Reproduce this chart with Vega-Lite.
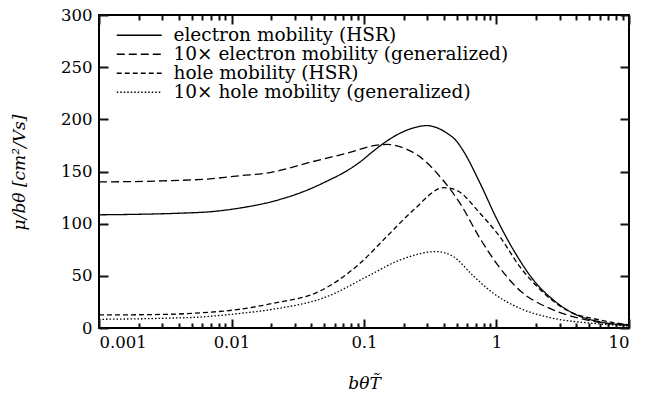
{
  "$schema": "https://vega.github.io/schema/vega-lite/v6.json",
  "width": 530,
  "height": 313,
  "autosize": {"type": "none"},
  "padding": {"left": 99, "top": 15, "right": 22, "bottom": 70},
  "background": "white",
  "config": {
    "view": {"stroke": "black", "strokeWidth": 2},
    "axis": {"grid": false, "domain": false, "labelFont": "DejaVu Serif", "labelFontSize": 16.5, "labelColor": "black", "titleFont": "DejaVu Serif", "titleFontSize": 17, "titleFontWeight": "normal", "titleFontStyle": "italic", "titleColor": "black"},
    "legend": {"labelFont": "DejaVu Serif", "labelFontSize": 18.5, "labelColor": "black"}
  },
  "data": {"values": [
    {"s": "electron mobility (HSR)", "x": 0.001, "y": 108.5},
    {"s": "electron mobility (HSR)", "x": 0.002, "y": 109},
    {"s": "electron mobility (HSR)", "x": 0.004, "y": 110},
    {"s": "electron mobility (HSR)", "x": 0.007, "y": 111.5},
    {"s": "electron mobility (HSR)", "x": 0.0116, "y": 115},
    {"s": "electron mobility (HSR)", "x": 0.02, "y": 121},
    {"s": "electron mobility (HSR)", "x": 0.037, "y": 132},
    {"s": "electron mobility (HSR)", "x": 0.055, "y": 142},
    {"s": "electron mobility (HSR)", "x": 0.066, "y": 147},
    {"s": "electron mobility (HSR)", "x": 0.093, "y": 159},
    {"s": "electron mobility (HSR)", "x": 0.1175, "y": 169.5},
    {"s": "electron mobility (HSR)", "x": 0.15, "y": 179.5},
    {"s": "electron mobility (HSR)", "x": 0.187, "y": 186.7},
    {"s": "electron mobility (HSR)", "x": 0.24, "y": 192},
    {"s": "electron mobility (HSR)", "x": 0.297, "y": 194},
    {"s": "electron mobility (HSR)", "x": 0.37, "y": 191},
    {"s": "electron mobility (HSR)", "x": 0.42, "y": 187},
    {"s": "electron mobility (HSR)", "x": 0.5, "y": 179},
    {"s": "electron mobility (HSR)", "x": 0.56, "y": 170},
    {"s": "electron mobility (HSR)", "x": 0.75, "y": 139},
    {"s": "electron mobility (HSR)", "x": 1.0, "y": 105},
    {"s": "electron mobility (HSR)", "x": 1.34, "y": 75},
    {"s": "electron mobility (HSR)", "x": 1.9, "y": 46},
    {"s": "electron mobility (HSR)", "x": 2.68, "y": 27},
    {"s": "electron mobility (HSR)", "x": 3.8, "y": 14},
    {"s": "electron mobility (HSR)", "x": 6.0, "y": 6},
    {"s": "electron mobility (HSR)", "x": 10, "y": 2.5},
    {"s": "10× electron mobility (generalized)", "x": 0.001, "y": 140},
    {"s": "10× electron mobility (generalized)", "x": 0.003, "y": 141},
    {"s": "10× electron mobility (generalized)", "x": 0.0069, "y": 143},
    {"s": "10× electron mobility (generalized)", "x": 0.0116, "y": 146},
    {"s": "10× electron mobility (generalized)", "x": 0.0195, "y": 149},
    {"s": "10× electron mobility (generalized)", "x": 0.0232, "y": 151},
    {"s": "10× electron mobility (generalized)", "x": 0.037, "y": 158},
    {"s": "10× electron mobility (generalized)", "x": 0.074, "y": 167.5},
    {"s": "10× electron mobility (generalized)", "x": 0.13, "y": 175.5},
    {"s": "10× electron mobility (generalized)", "x": 0.15, "y": 176},
    {"s": "10× electron mobility (generalized)", "x": 0.177, "y": 174.5},
    {"s": "10× electron mobility (generalized)", "x": 0.265, "y": 164},
    {"s": "10× electron mobility (generalized)", "x": 0.375, "y": 145},
    {"s": "10× electron mobility (generalized)", "x": 0.53, "y": 119.6},
    {"s": "10× electron mobility (generalized)", "x": 0.75, "y": 86},
    {"s": "10× electron mobility (generalized)", "x": 1.0, "y": 62},
    {"s": "10× electron mobility (generalized)", "x": 1.5, "y": 36},
    {"s": "10× electron mobility (generalized)", "x": 2.5, "y": 19},
    {"s": "10× electron mobility (generalized)", "x": 4.5, "y": 8.5},
    {"s": "10× electron mobility (generalized)", "x": 10, "y": 2.5},
    {"s": "hole mobility (HSR)", "x": 0.001, "y": 12.5},
    {"s": "hole mobility (HSR)", "x": 0.003, "y": 13},
    {"s": "hole mobility (HSR)", "x": 0.0058, "y": 14.5},
    {"s": "hole mobility (HSR)", "x": 0.0116, "y": 18},
    {"s": "hole mobility (HSR)", "x": 0.0207, "y": 23.7},
    {"s": "hole mobility (HSR)", "x": 0.0466, "y": 35.5},
    {"s": "hole mobility (HSR)", "x": 0.0933, "y": 62},
    {"s": "hole mobility (HSR)", "x": 0.148, "y": 87.5},
    {"s": "hole mobility (HSR)", "x": 0.236, "y": 113},
    {"s": "hole mobility (HSR)", "x": 0.4, "y": 134.5},
    {"s": "hole mobility (HSR)", "x": 0.5, "y": 132},
    {"s": "hole mobility (HSR)", "x": 0.75, "y": 110},
    {"s": "hole mobility (HSR)", "x": 1.06, "y": 87.5},
    {"s": "hole mobility (HSR)", "x": 1.5, "y": 58.8},
    {"s": "hole mobility (HSR)", "x": 2.15, "y": 36.4},
    {"s": "hole mobility (HSR)", "x": 3.4, "y": 17},
    {"s": "hole mobility (HSR)", "x": 6.0, "y": 7.7},
    {"s": "hole mobility (HSR)", "x": 10, "y": 3},
    {"s": "10× hole mobility (generalized)", "x": 0.001, "y": 8.3},
    {"s": "10× hole mobility (generalized)", "x": 0.003, "y": 9.3},
    {"s": "10× hole mobility (generalized)", "x": 0.0058, "y": 10.5},
    {"s": "10× hole mobility (generalized)", "x": 0.0116, "y": 14},
    {"s": "10× hole mobility (generalized)", "x": 0.0207, "y": 18},
    {"s": "10× hole mobility (generalized)", "x": 0.0523, "y": 30},
    {"s": "10× hole mobility (generalized)", "x": 0.105, "y": 49.2},
    {"s": "10× hole mobility (generalized)", "x": 0.187, "y": 65.2},
    {"s": "10× hole mobility (generalized)", "x": 0.353, "y": 73.2},
    {"s": "10× hole mobility (generalized)", "x": 0.473, "y": 68.4},
    {"s": "10× hole mobility (generalized)", "x": 0.668, "y": 50},
    {"s": "10× hole mobility (generalized)", "x": 0.946, "y": 33.3},
    {"s": "10× hole mobility (generalized)", "x": 1.5, "y": 18.9},
    {"s": "10× hole mobility (generalized)", "x": 2.68, "y": 9.3},
    {"s": "10× hole mobility (generalized)", "x": 5.3, "y": 4.5},
    {"s": "10× hole mobility (generalized)", "x": 10, "y": 2}
  ]},
  "resolve": {"axis": {"x": "independent", "y": "independent"}},
  "layer": [
    {
      "mark": {"type": "line", "color": "black", "strokeWidth": 1.3, "interpolate": "monotone"},
      "encoding": {
        "x": {"field": "x", "type": "quantitative", "scale": {"type": "log", "domain": [0.001, 10]},
          "axis": {"orient": "bottom", "values": [0.001, 0.01, 0.1, 1, 10], "format": "~g", "ticks": false, "tickSize": 0, "labelPadding": 6,
            "title": "bθT̃", "titleX": 265, "titleY": 55, "titleBaseline": "middle", "titleAlign": "center"}},
        "y": {"field": "y", "type": "quantitative", "scale": {"domain": [0, 300]},
          "axis": {"orient": "left", "values": [0, 50, 100, 150, 200, 250, 300], "ticks": false, "tickSize": 0, "labelPadding": 7,
            "title": "μ/bθ [cm²/Vs]", "titleX": -80, "titleY": 157, "titleBaseline": "middle", "titleAlign": "center"}},
        "strokeDash": {"field": "s", "type": "nominal",
          "scale": {"domain": ["electron mobility (HSR)", "10× electron mobility (generalized)", "hole mobility (HSR)", "10× hole mobility (generalized)"],
            "range": [[1, 0], [8, 4], [5, 3], [1.5, 2]]},
          "legend": {"title": null, "orient": "none", "legendX": 31, "legendY": 11, "symbolType": "M-3,0H3", "symbolSize": 225, "symbolStrokeWidth": 1.5, "symbolStrokeColor": "black", "rowPadding": -2.5, "labelOffset": 25, "labelLimit": 0}}
      }
    },
    {
      "mark": {"type": "point", "opacity": 0},
      "encoding": {
        "x": {"field": "x", "type": "quantitative", "axis": {"orient": "bottom", "zindex": 2, "values": [0.001, 0.002, 0.003, 0.004, 0.005, 0.006, 0.007, 0.008, 0.009, 0.01, 0.02, 0.03, 0.04, 0.05, 0.06, 0.07, 0.08, 0.09, 0.1, 0.2, 0.3, 0.4, 0.5, 0.6, 0.7, 0.8, 0.9, 1, 2, 3, 4, 5, 6, 7, 8, 9, 10], "labels": false,
          "tickSize": {"condition": {"test": "abs(log(datum.value)/LN10 - round(log(datum.value)/LN10)) < 0.001", "value": -9}, "value": -5}, "tickColor": "#111111", "tickOpacity": 1, "tickWidth": 2, "title": null}},
        "y": {"field": "y", "type": "quantitative", "axis": {"orient": "left", "zindex": 2, "values": [0, 50, 100, 150, 200, 250, 300], "labels": false, "tickSize": -9, "tickColor": "#111111", "tickOpacity": 1, "tickWidth": 2, "title": null}}
      }
    },
    {
      "mark": {"type": "point", "opacity": 0},
      "encoding": {
        "x": {"field": "x", "type": "quantitative", "axis": {"orient": "top", "zindex": 2, "values": [0.001, 0.002, 0.003, 0.004, 0.005, 0.006, 0.007, 0.008, 0.009, 0.01, 0.02, 0.03, 0.04, 0.05, 0.06, 0.07, 0.08, 0.09, 0.1, 0.2, 0.3, 0.4, 0.5, 0.6, 0.7, 0.8, 0.9, 1, 2, 3, 4, 5, 6, 7, 8, 9, 10], "labels": false,
          "tickSize": {"condition": {"test": "abs(log(datum.value)/LN10 - round(log(datum.value)/LN10)) < 0.001", "value": -9}, "value": -5}, "tickColor": "#111111", "tickOpacity": 1, "tickWidth": 2, "title": null}},
        "y": {"field": "y", "type": "quantitative", "axis": {"orient": "right", "zindex": 2, "values": [0, 50, 100, 150, 200, 250, 300], "labels": false, "tickSize": -9, "tickColor": "#111111", "tickOpacity": 1, "tickWidth": 2, "title": null}}
      }
    }
  ]
}
